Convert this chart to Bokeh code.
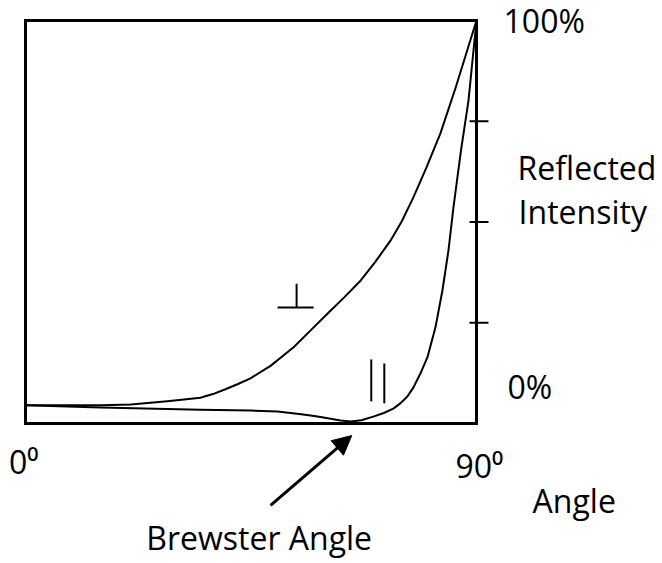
from bokeh.plotting import figure
from bokeh.models import Label, Arrow, NormalHead, Range1d
from bokeh.embed import file_html
from bokeh.resources import INLINE

# perpendicular (s) polarisation: angle (deg) -> reflected intensity (%)
angle_perp = [0, 15.0, 21.0, 28.3, 34.9, 37.4, 39.9, 42.4, 44.9, 48.9, 53.5, 56.9, 60.3, 63.6,
              66.9, 69.8, 72.8, 75.1, 77.4, 80.0, 82.8, 85.8, 90]
refl_perp = [4.5, 4.5, 4.7, 5.5, 6.4, 7.3, 8.5, 9.8, 11.2, 14.3, 18.9, 23.1, 27.3, 31.3,
             35.5, 40.1, 45.3, 50.2, 56.1, 63.5, 72.0, 83.2, 100]

# parallel (p) polarisation
angle_par = [0, 15.0, 34.9, 45.0, 50.3, 52.9, 55.0, 56.9, 58.9, 60.9, 62.9, 64.9, 67.0, 69.4,
             71.5, 73.4, 74.8, 76.2, 77.4, 78.8, 80.2, 81.8, 83.2, 84.4, 85.4, 86.9, 88.4, 90]
refl_par = [4.5, 4.0, 3.4, 3.2, 3.0, 2.6, 2.3, 2.0, 1.6, 1.2, 0.75, 0.5, 0.8, 1.7,
            2.6, 3.7, 5.0, 6.7, 8.9, 12.4, 16.4, 23.8, 33.0, 42.9, 53.6, 67.7, 80.1, 100]

tick_values = [25, 50, 75]
angle_min, angle_max = 0, 90
refl_min, refl_max = 0, 100

FONT = "Open Sans"
FS = "32px"

W, H = 660, 560
# pixel scale of the chart box: 451 px for 90 deg, 403 px for 100 %
sx = 451 / 90.0
sy = 403 / 100.0
box_left_px, box_bottom_px = 25, 423

p = figure(width=W, height=H, output_backend="svg", toolbar_location=None,
           x_axis_type=None, y_axis_type=None,
           x_range=Range1d(-box_left_px / sx, (W - box_left_px) / sx),
           y_range=Range1d((box_bottom_px - H) / sy, box_bottom_px / sy),
           min_border=0, min_border_left=0, min_border_right=0,
           min_border_top=0, min_border_bottom=0)
p.title = None
p.grid.visible = False
p.outline_line_color = None
p.background_fill_color = "white"
p.border_fill_color = "white"

# chart box
p.quad(left=[angle_min], right=[angle_max], bottom=[refl_min], top=[refl_max],
       fill_color=None, line_color="black", line_width=3, line_join="miter")

# ticks on the right edge (7 px inside, 12 px outside)
p.segment(x0=[angle_max - 7 / sx] * len(tick_values), y0=tick_values,
          x1=[angle_max + 12 / sx] * len(tick_values), y1=tick_values,
          line_color="black", line_width=2)

p.line(angle_perp, refl_perp, line_color="black", line_width=2, line_join="round")
p.line(angle_par, refl_par, line_color="black", line_width=2, line_join="round")

# symbols for the two polarisations
p.segment(x0=[50.3, 54.1], y0=[28.8, 28.8], x1=[57.5, 54.1], y1=[28.8, 34.7],
          line_color="black", line_width=2)
p.segment(x0=[69.0, 71.6], y0=[15.9, 14.9], x1=[69.0, 71.6], y1=[5.5, 5.0],
          line_color="black", line_width=2)

def lab(x, y, t):
    p.add_layout(Label(x=x, y=y, text=t, text_font=FONT, text_font_size=FS,
                       text_baseline="alphabetic", text_align="left", text_color="black"))

lab(95.4, 100.1, "100%")
lab(98.2, 63.6, "Reflected")
lab(98.4, 52.5, "Intensity")
lab(96.2, 9.3, "0%")
lab(-3.3, -9.55, "0⁰")
lab(85.8, -10.3, "90⁰")
lab(101.2, -19.2, "Angle")
lab(24.1, -28.2, "Brewster Angle")

p.add_layout(Arrow(end=NormalHead(size=19, fill_color="black", line_color="black"),
                   x_start=48.9, y_start=-20.3, x_end=65.1, y_end=-3.0,
                   line_color="black", line_width=3))

open("out.html", "w").write(file_html(p, INLINE))
